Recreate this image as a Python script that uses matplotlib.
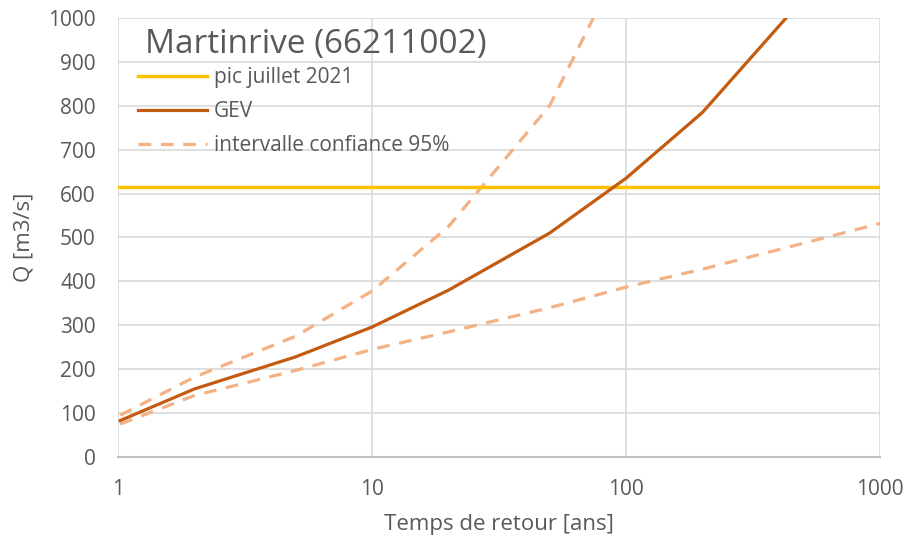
import numpy as np
import matplotlib.pyplot as plt

plt.rcParams['font.family'] = ['Open Sans', 'DejaVu Sans']

# periodes de retour [ans]
T = [1.02, 2, 5, 10, 20, 50, 100, 200, 500, 1000]
gev = [83, 155, 228, 296, 380, 510, 635, 785, 1045, 1350]
ic_haut = [95, 182, 275, 378, 525, 800, 1150, 1550, 2200, 2800]
ic_bas = [75, 140, 197, 245, 285, 340, 387, 428, 487, 532]
pic_2021 = 615

gris = "#595959"

fig = plt.figure(figsize=(9.12, 5.45), dpi=100)
ax = fig.add_axes([0.1294, 0.1615, 0.8356, 0.8055])

ax.axhline(pic_2021, color="#FFC000", lw=2.5, label="pic juillet 2021", zorder=3)
ax.plot(T, gev, color="#C55A11", lw=2.3, label="GEV", zorder=4)
ax.plot(T, ic_haut, color="#F4B183", lw=2.3, ls=(0, (4, 3)), label="intervalle confiance 95%", zorder=2)
ax.plot(T, ic_bas, color="#F4B183", lw=2.3, ls=(0, (4, 3)), zorder=2)

ax.set_xscale("log")
ax.set_xlim(1, 1000)
ax.set_ylim(0, 1000)
ax.set_xticks([1, 10, 100, 1000])
ax.set_xticklabels(["1", "10", "100", "1000"])
ax.xaxis.set_minor_locator(plt.NullLocator())
ax.set_yticks(np.arange(0, 1001, 100))
ax.grid(True, color="#D9D9D9", lw=1.2)
ax.set_axisbelow(True)
for s in ["top", "right", "left"]:
    ax.spines[s].set_visible(False)
ax.spines["bottom"].set_color("#BFBFBF")
ax.spines["bottom"].set_linewidth(1.5)
ax.tick_params(length=0, labelsize=15, colors=gris)
ax.tick_params(axis="y", pad=16)
ax.tick_params(axis="x", pad=16)

ax.set_xlabel("Temps de retour [ans]", fontsize=16, color=gris, labelpad=10)
ax.set_ylabel("Q [m3/s]", fontsize=16, color=gris, labelpad=10)

fig.text(145 / 912, 1 - 45 / 545, "Martinrive (66211002)", fontsize=24,
         color=gris, ha="left", va="center")

leg = ax.legend(loc="upper left", bbox_to_anchor=(138 / 912, 1 - 67 / 545),
                bbox_transform=fig.transFigure, frameon=False,
                fontsize=15, handlelength=3.3, handletextpad=0.35,
                labelspacing=0.62, borderaxespad=0, borderpad=0)
for t in leg.get_texts():
    t.set_color(gris)

fig.savefig("out.png", dpi=100)
